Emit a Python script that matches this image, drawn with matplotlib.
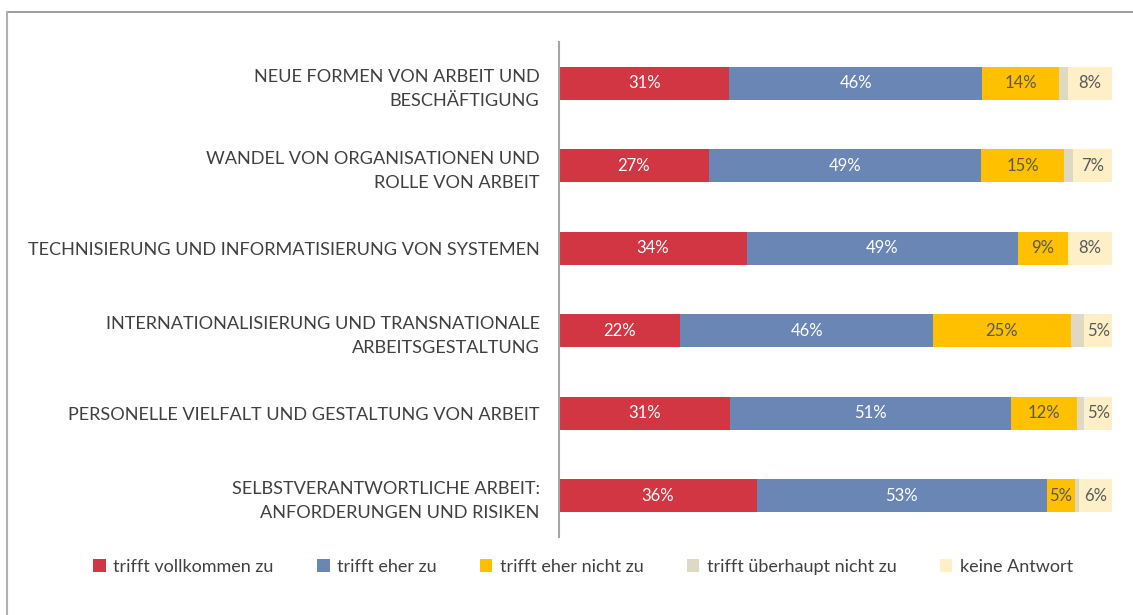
import matplotlib
matplotlib.use("Agg")
import matplotlib.pyplot as plt
from matplotlib.lines import Line2D
import numpy as np

categories = [
    "NEUE FORMEN VON ARBEIT UND\nBESCHÄFTIGUNG",
    "WANDEL VON ORGANISATIONEN UND\nROLLE VON ARBEIT",
    "TECHNISIERUNG UND INFORMATISIERUNG VON SYSTEMEN",
    "INTERNATIONALISIERUNG UND TRANSNATIONALE\nARBEITSGESTALTUNG",
    "PERSONELLE VIELFALT UND GESTALTUNG VON ARBEIT",
    "SELBSTVERANTWORTLICHE ARBEIT:\nANFORDERUNGEN UND RISIKEN",
]
series_names = ["trifft vollkommen zu", "trifft eher zu", "trifft eher nicht zu",
                "trifft überhaupt nicht zu", "keine Antwort"]
vollkommen = [31, 27, 34, 22, 31, 36]
eher = [46, 49, 49, 46, 51, 53]
eher_nicht = [14, 15, 9, 25, 12, 5]
ueberhaupt_nicht = [1.6, 1.6, 0, 2.5, 1.4, 0.8]
keine_antwort = [8, 7, 8, 5, 5, 6]
show_label = [True, True, True, False, True]

colors = ["#D13642", "#6A86B5", "#FFC000", "#DDD9C3", "#FFEFC6"]
label_colors = ["white", "white", "#595959", "#595959", "#595959"]

FONT = ["Lato", "DejaVu Sans"]
plt.rcParams["font.family"] = FONT

data = np.array([vollkommen, eher, eher_nicht, ueberhaupt_nicht, keine_antwort], dtype=float)
totals = data.sum(axis=0)
pct = data / totals * 100

fig = plt.figure(figsize=(11.33, 6.15), dpi=100)
ax = fig.add_axes([559/1133, 1-537/615, 553/1133, 495/615])

y = np.arange(len(categories))
left = np.zeros(len(categories))
handles = []
for i in range(5):
    bars = ax.barh(y, pct[i], left=left, height=0.4, color=colors[i], label=series_names[i],
                   linewidth=0)
    handles.append(bars)
    if show_label[i]:
        for j in range(len(categories)):
            if data[i, j] > 0:
                ax.text(left[j] + pct[i, j]/2, y[j], f"{int(data[i, j])}%", ha="center", va="center",
                        color=label_colors[i], fontsize=12)
    left += pct[i]

ax.set_xlim(0, 100)
ax.set_ylim(len(categories)-0.5, -0.5)
ax.set_xticks([])
ax.set_yticks(y)
ax.set_yticklabels(categories, fontsize=13.1, color="#404040", linespacing=1.6)
ax.tick_params(axis="y", length=0, pad=14)
for s in ["top", "right", "bottom"]:
    ax.spines[s].set_visible(False)
ax.spines["left"].set_color("#A6A6A6")
ax.spines["left"].set_linewidth(1.5)

leg = fig.legend(handles=handles, labels=series_names, loc="center", ncol=5,
                 bbox_to_anchor=(583/1133, 1-567/615), frameon=False, fontsize=13,
                 handlelength=0.7, handleheight=0.7, handletextpad=0.4, columnspacing=2.4)
for t in leg.get_texts():
    t.set_color("#404040")

fig.add_artist(Line2D([7/1133, 1], [1-12/615, 1-12/615], color="#8C8C8C", linewidth=1.2))
fig.add_artist(Line2D([7/1133, 7/1133], [0, 1-12/615], color="#B0B0B0", linewidth=1.5))

fig.savefig("out.png", dpi=100)
